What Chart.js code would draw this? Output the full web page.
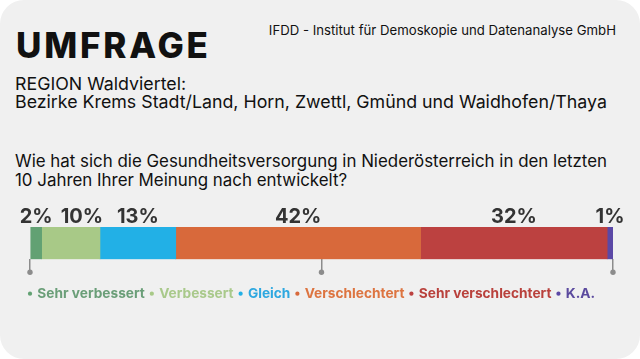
<!DOCTYPE html>
<html><head><meta charset="utf-8">
<script src="https://cdn.jsdelivr.net/npm/chart.js@4.4.1/dist/chart.umd.min.js"></script>
<style>
html,body{margin:0;padding:0;background:#fff;width:640px;height:359px;overflow:hidden;}
#card{position:absolute;left:0;top:0;width:640px;height:359px;background:#f0f0f0;border-radius:24px;overflow:hidden;font-family:Inter, "Open Sans", sans-serif;color:#111;}
.t{position:absolute;white-space:nowrap;}
#wrap{position:absolute;left:0;top:195px;width:640px;height:120px;}
</style></head><body>
<div id="card">
<div class="t" style="left:16px;top:23px;font-size:35px;font-weight:800;line-height:44px;letter-spacing:2.8px;">UMFRAGE</div>
<div class="t" style="right:24px;top:21px;font-size:13.2px;line-height:18px;">IFDD - Institut für Demoskopie und Datenanalyse GmbH</div>
<div class="t" style="left:15px;top:74.5px;font-size:17.8px;line-height:18.5px;">REGION Waldviertel:<br>Bezirke Krems Stadt/Land, Horn, Zwettl, Gmünd und Waidhofen/Thaya</div>
<div class="t" style="left:15px;top:151.5px;font-size:16.9px;line-height:19px;">Wie hat sich die Gesundheitsversorgung in Niederösterreich in den letzten<br>10 Jahren Ihrer Meinung nach entwickelt?</div>
<div id="wrap"><canvas id="c"></canvas></div>
</div>
<script>
const categories = ['Waldviertel'];
const seriesLabels = ['Sehr verbessert', 'Verbessert', 'Gleich', 'Verschlechtert', 'Sehr verschlechtert', 'K.A.'];
const seriesValues = [2, 10, 13, 42, 32, 1];
const tickValues = [0, 50, 100];
const barColors = ['#62a173', '#a8c987', '#22b0e6', '#d8693b', '#bc4140', '#5b48a6'];
const legendColors = ['#6a9e78', '#a9c98b', '#2ea8e0', '#dd7440', '#b9413c', '#5b4a9e'];

const overlay = {
  id: 'overlay',
  afterDatasetsDraw(chart) {
    const ctx = chart.ctx;
    ctx.save();
    ctx.font = '700 20px Inter';
    ctx.fillStyle = '#333333';
    ctx.textAlign = 'center';
    ctx.textBaseline = 'alphabetic';
    let prevRight = -Infinity;
    chart.data.datasets.forEach((ds, i) => {
      const meta = chart.getDatasetMeta(i);
      meta.data.forEach((el, j) => {
        const p = el.getProps(['x', 'base', 'y', 'height'], true);
        const txt = ds.data[j] + '%';
        const w = ctx.measureText(txt).width;
        let cx = (p.x + p.base) / 2;
        if (cx - w / 2 < prevRight + 8) cx = prevRight + 8 + w / 2;
        ctx.fillText(txt, cx, p.y - p.height / 2 - 4);
        prevRight = cx + w / 2;
      });
    });
    const xs = chart.scales.x;
    ctx.fillStyle = '#8c8c8c';
    xs.ticks.forEach(t => {
      const px = xs.getPixelForValue(t.value);
      ctx.beginPath();
      ctx.arc(px, chart.chartArea.bottom + 13, 2.7, 0, Math.PI * 2);
      ctx.fill();
    });
    ctx.restore();
  }
};

const hiddenAxis = (pos, w) => ({
  type: 'category', position: pos, stacked: true,
  ticks: { display: false },
  grid: { display: false },
  border: { display: false },
  afterFit: s => { s.width = w; }
});

new Chart(document.getElementById('c'), {
  type: 'bar',
  data: {
    labels: categories,
    datasets: seriesLabels.map((l, i) => ({
      label: l,
      data: [seriesValues[i]],
      backgroundColor: barColors[i],
      borderWidth: 0,
      barPercentage: 1,
      categoryPercentage: 1,
      yAxisID: 'y'
    }))
  },
  options: {
    indexAxis: 'y',
    responsive: true,
    maintainAspectRatio: false,
    animation: false,
    layout: { padding: { left: 23, right: 0, top: 32, bottom: 4.5 } },
    scales: {
      x: {
        type: 'linear', stacked: true, min: 0, max: 100,
        afterBuildTicks: s => { s.ticks = tickValues.map(v => ({ value: v })); },
        ticks: { display: false },
        grid: { display: true, drawOnChartArea: false, drawTicks: true, tickLength: 11, color: '#8c8c8c', lineWidth: 1.5 },
        border: { display: false },
        afterFit: s => { s.height = 21; }
      },
      y: hiddenAxis('left', 7),
      y2: hiddenAxis('right', 27)
    },
    plugins: {
      tooltip: { enabled: false },
      legend: {
        position: 'bottom',
        align: 'start',
        labels: {
          usePointStyle: true,
          boxWidth: 1,
          boxHeight: 3,
          padding: 6.5,
          font: { family: 'Inter', size: 13.7, weight: '700' },
          generateLabels: chart => chart.data.datasets.map((ds, i) => ({
            text: ds.label,
            fillStyle: ds.backgroundColor,
            strokeStyle: ds.backgroundColor,
            lineWidth: 0,
            fontColor: legendColors[i],
            pointStyle: 'circle',
            hidden: false,
            datasetIndex: i
          }))
        }
      }
    }
  },
  plugins: [overlay]
});
</script>
</body></html>
